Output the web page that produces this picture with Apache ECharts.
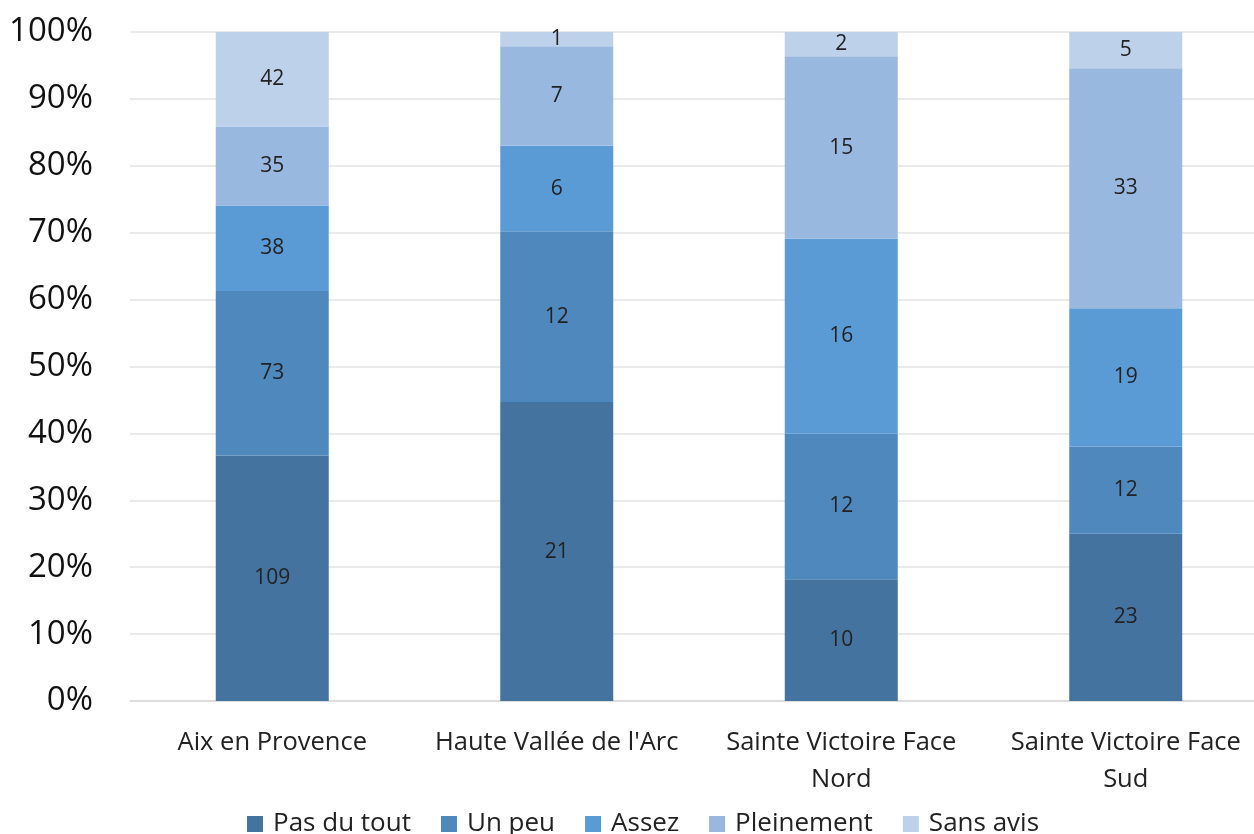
<!DOCTYPE html>
<html>
<head>
<meta charset="utf-8">
<script src="https://cdn.jsdelivr.net/npm/echarts@6/dist/echarts.min.js"></script>
<style>
  html, body { margin: 0; padding: 0; background: #fff; }
  #chart { width: 1254px; height: 834px; }
</style>
</head>
<body>
<div id="chart"></div>
<script>
// zones
const categories = ['Aix en Provence', "Haute Vallée de l'Arc", 'Sainte Victoire Face\nNord', 'Sainte Victoire Face\nSud'];

// nombre de réponses par niveau
const pasDuTout = [109, 21, 10, 23];
const unPeu = [73, 12, 12, 12];
const assez = [38, 6, 16, 19];
const pleinement = [35, 7, 15, 33];
const sansAvis = [42, 1, 2, 5];

const seriesNames = ['Pas du tout', 'Un peu', 'Assez', 'Pleinement', 'Sans avis'];
const seriesColors = ['#44739F', '#4F88BD', '#5B9BD5', '#99B8DF', '#BED1EA'];
const yTicks = [0, 10, 20, 30, 40, 50, 60, 70, 80, 90, 100];

const counts = [pasDuTout, unPeu, assez, pleinement, sansAvis];
const totals = categories.map((_, i) => counts.reduce((s, arr) => s + arr[i], 0));

const chart = echarts.init(document.getElementById('chart'));

const font = '"Open Sans", "DejaVu Sans", sans-serif';

chart.setOption({
  backgroundColor: '#fff',
  animation: false,
  textStyle: { fontFamily: font },
  grid: { left: 130, top: 32, width: 1138, height: 669, containLabel: false, outerBoundsMode: 'none' },
  legend: {
    bottom: -8,
    left: 242,
    itemWidth: 16,
    itemHeight: 16,
    itemGap: 30,
    icon: 'rect',
    textStyle: { fontSize: 26, color: '#222', fontFamily: font, padding: [0, 0, 0, 5] },
    data: seriesNames
  },
  xAxis: {
    type: 'category',
    data: categories,
    axisLine: { lineStyle: { color: '#d9d9d9', width: 1.5 } },
    axisTick: { show: false },
    axisLabel: { color: '#222', fontSize: 25.5, margin: 23, lineHeight: 37, interval: 0, fontFamily: font }
  },
  yAxis: {
    type: 'value',
    min: 0,
    max: 100,
    interval: 10,
    axisLine: { show: false },
    axisTick: { show: false },
    splitLine: { lineStyle: { color: '#e3e3e3', width: 1.5 } },
    axisLabel: {
      color: '#111',
      fontSize: 33,
      margin: 37,
      fontFamily: font,
      formatter: v => (yTicks.includes(v) ? v + '%' : '')
    }
  },
  series: seriesNames.map((name, k) => ({
    name,
    type: 'bar',
    stack: 'total',
    barWidth: 113,
    itemStyle: { color: seriesColors[k] },
    label: {
      show: true,
      position: 'inside',
      color: '#222',
      fontSize: 21,
      fontFamily: font,
      formatter: p => String(counts[k][p.dataIndex])
    },
    data: counts[k].map((v, i) => v / totals[i] * 100)
  }))
});
</script>
</body>
</html>
